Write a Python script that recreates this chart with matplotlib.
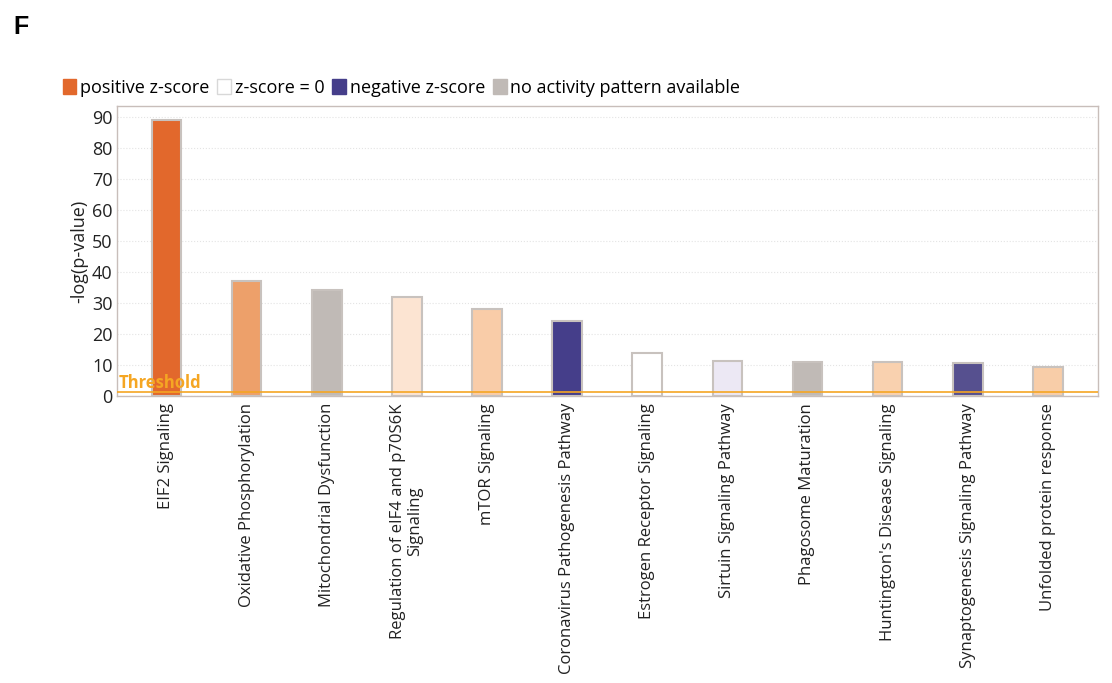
import matplotlib.pyplot as plt
from matplotlib.patches import Patch

plt.rcParams['font.family'] = ['Open Sans', 'DejaVu Sans']

pathways = ['EIF2 Signaling', 'Oxidative Phosphorylation', 'Mitochondrial Dysfunction',
            'Regulation of eIF4 and p70S6K\nSignaling', 'mTOR Signaling',
            'Coronavirus Pathogenesis Pathway', 'Estrogen Receptor Signaling',
            'Sirtuin Signaling Pathway', 'Phagosome Maturation',
            "Huntington's Disease Signaling", 'Synaptogenesis Signaling Pathway',
            'Unfolded protein response']
neg_log_p = [89.0, 37.1, 34.3, 31.9, 28.0, 24.2, 13.9, 11.3, 11.0, 11.0, 10.6, 9.4]
bar_colors = ['#E2682C', '#EDA06A', '#C0BAB6', '#FCE4D2', '#F9CCA8', '#453E8A',
              '#FFFFFF', '#ECE8F4', '#C0BAB6', '#F9D1AF', '#56508F', '#F8CDA8']
threshold = 1.3

legend_labels = ['positive z-score', 'z-score = 0', 'negative z-score', 'no activity pattern available']
legend_colors = ['#E2682C', '#FFFFFF', '#453E8A', '#C0BAB6']

fig = plt.figure(figsize=(11.12, 6.83), dpi=100)
ax = fig.add_axes([0.105, 0.42, 0.882, 0.425])

x = list(range(len(pathways)))
ax.bar(x, neg_log_p, width=0.37, color=bar_colors, edgecolor='#C8C2BE', linewidth=1.5, zorder=3)
ax.axhline(threshold, color='#F5A623', linewidth=1.2, zorder=4)
ax.text(-0.6, threshold + 1.2, 'Threshold', color='#F5A623', fontsize=12, fontweight='bold', zorder=5)

ax.set_xlim(-0.62, 11.62)
ax.set_ylim(0, 93.5)
ax.set_yticks(range(0, 91, 10))
ax.set_xticks(x)
ax.set_xticklabels(pathways, rotation=90, fontsize=12, color='#222222', linespacing=1.1)
ax.tick_params(axis='y', labelsize=13, length=0, colors='#222222', pad=3)
ax.tick_params(axis='x', length=0, pad=5)
ax.set_ylabel('-log(p-value)', fontsize=13, color='#222222', labelpad=3)
ax.grid(axis='y', color='#E4E4E4', linestyle=':', linewidth=0.8, zorder=0)
for s in ax.spines.values():
    s.set_color('#C8BEBA')
    s.set_linewidth(1.0)

handles = [Patch(facecolor=c, edgecolor='#D8D8D8' if c == '#FFFFFF' else c) for c in legend_colors]
fig.legend(handles, legend_labels, loc='center left', bbox_to_anchor=(0.05, 0.871), ncol=4,
           frameon=False, fontsize=13, handlelength=0.75, handleheight=0.9, handletextpad=0.2,
           columnspacing=0.45, borderaxespad=0)

fig.text(0.012, 0.96, 'F', fontsize=18, fontweight='bold', va='center', family='Liberation Sans')

fig.savefig('out.png', dpi=100, facecolor='white')
